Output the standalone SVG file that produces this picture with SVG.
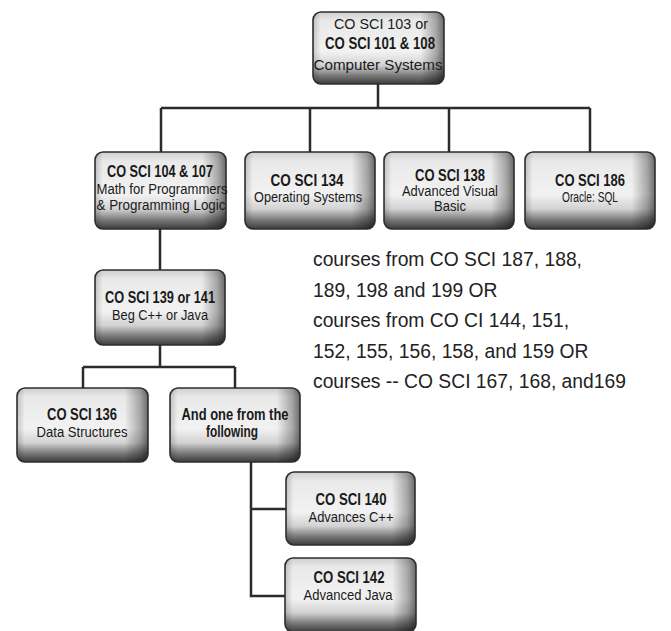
<svg xmlns="http://www.w3.org/2000/svg" width="671" height="631" viewBox="0 0 671 631">
<defs>
<linearGradient id="gv" x1="0" y1="0" x2="0" y2="1">
<stop offset="0" stop-color="#cfcfcf"/>
<stop offset="0.12" stop-color="#e9e9e9"/>
<stop offset="0.55" stop-color="#f2f2f2"/>
<stop offset="0.74" stop-color="#d2d2d2"/>
<stop offset="0.88" stop-color="#7a7a7a"/>
<stop offset="1" stop-color="#3c3c3c"/>
</linearGradient>
<linearGradient id="gh" x1="0" y1="0" x2="1" y2="0">
<stop offset="0" stop-color="#000" stop-opacity="0.18"/>
<stop offset="0.06" stop-color="#000" stop-opacity="0"/>
<stop offset="0.82" stop-color="#000" stop-opacity="0"/>
<stop offset="0.94" stop-color="#000" stop-opacity="0.3"/>
<stop offset="1" stop-color="#000" stop-opacity="0.55"/>
</linearGradient>
</defs>
<style>
.b{fill:url(#gv)}
.s{fill:url(#gh)}
.o{fill:none;stroke:#2e2e2e;stroke-width:1.6}
text{font-family:"Liberation Sans Narrow","Liberation Sans",Arial,sans-serif;fill:#1a1a1a;text-anchor:middle}
.t{font-weight:bold;font-size:16.5px}
.r{font-size:14px}
.n{font-family:"Liberation Sans",Arial,sans-serif;font-size:19.3px;text-anchor:start;fill:#222}
.c{fill:none;stroke:#2b2b2b;stroke-width:2.5}
</style>
<g id="connectors">
<path class="c" d="M378 84V108M161 108H590M161 108V153M310 108V153M449 108V153M590 108V153"/>
<path class="c" d="M160 229V270M160 345V367M83 367H235M83 367V388M235 367V388"/>
<path class="c" d="M251 462V596H285M251 509H286"/>
</g>
<g id="n103">
<rect class="b" x="313" y="12" width="131" height="72" rx="8"/>
<rect class="s" x="313" y="12" width="131" height="72" rx="8"/>
<rect class="o" x="313" y="12" width="131" height="72" rx="8"/>
<text class="r" x="381" y="29" font-size="15.5" textLength="94" lengthAdjust="spacingAndGlyphs">CO SCI 103 or</text>
<text class="t" x="380" y="49" textLength="110" lengthAdjust="spacingAndGlyphs">CO SCI 101 &amp; 108</text>
<text class="r" x="378" y="70" font-size="15.5" textLength="129" lengthAdjust="spacingAndGlyphs">Computer Systems</text>
</g>
<g id="n104">
<rect class="b" x="95" y="152" width="131" height="77" rx="8"/>
<rect class="s" x="95" y="152" width="131" height="77" rx="8"/>
<rect class="o" x="95" y="152" width="131" height="77" rx="8"/>
<text class="t" x="160" y="177" textLength="106" lengthAdjust="spacingAndGlyphs">CO SCI 104 &amp; 107</text>
<text class="r" x="162" y="194" textLength="131" lengthAdjust="spacingAndGlyphs">Math for Programmers</text>
<text class="r" x="161" y="210" textLength="129" lengthAdjust="spacingAndGlyphs">&amp; Programming Logic</text>
</g>
<g id="n134">
<rect class="b" x="245" y="152" width="130" height="77" rx="8"/>
<rect class="s" x="245" y="152" width="130" height="77" rx="8"/>
<rect class="o" x="245" y="152" width="130" height="77" rx="8"/>
<text class="t" x="307" y="186" textLength="73" lengthAdjust="spacingAndGlyphs">CO SCI 134</text>
<text class="r" x="308" y="202" textLength="108" lengthAdjust="spacingAndGlyphs">Operating Systems</text>
</g>
<g id="n138">
<rect class="b" x="384" y="152" width="130" height="77" rx="8"/>
<rect class="s" x="384" y="152" width="130" height="77" rx="8"/>
<rect class="o" x="384" y="152" width="130" height="77" rx="8"/>
<text class="t" x="450" y="181" textLength="70" lengthAdjust="spacingAndGlyphs">CO SCI 138</text>
<text class="r" x="450" y="196" font-size="12.5" textLength="96" lengthAdjust="spacingAndGlyphs">Advanced Visual</text>
<text class="r" x="450" y="211" font-size="12.5" textLength="32" lengthAdjust="spacingAndGlyphs">Basic</text>
</g>
<g id="n186">
<rect class="b" x="525" y="152" width="130" height="77" rx="8"/>
<rect class="s" x="525" y="152" width="130" height="77" rx="8"/>
<rect class="o" x="525" y="152" width="130" height="77" rx="8"/>
<text class="t" x="590" y="186" textLength="70" lengthAdjust="spacingAndGlyphs">CO SCI 186</text>
<text class="r" x="590" y="202" textLength="56" lengthAdjust="spacingAndGlyphs">Oracle: SQL</text>
</g>
<g id="n139">
<rect class="b" x="95" y="270" width="130" height="75" rx="8"/>
<rect class="s" x="95" y="270" width="130" height="75" rx="8"/>
<rect class="o" x="95" y="270" width="130" height="75" rx="8"/>
<text class="t" x="160" y="303" textLength="110" lengthAdjust="spacingAndGlyphs">CO SCI 139 or 141</text>
<text class="r" x="160" y="320" textLength="96" lengthAdjust="spacingAndGlyphs">Beg C++ or Java</text>
</g>
<g id="n136">
<rect class="b" x="17" y="388" width="131" height="74" rx="8"/>
<rect class="s" x="17" y="388" width="131" height="74" rx="8"/>
<rect class="o" x="17" y="388" width="131" height="74" rx="8"/>
<text class="t" x="82" y="420" textLength="70" lengthAdjust="spacingAndGlyphs">CO SCI 136</text>
<text class="r" x="82" y="437" textLength="91" lengthAdjust="spacingAndGlyphs">Data Structures</text>
</g>
<g id="nOne">
<rect class="b" x="170" y="388" width="130" height="74" rx="8"/>
<rect class="s" x="170" y="388" width="130" height="74" rx="8"/>
<rect class="o" x="170" y="388" width="130" height="74" rx="8"/>
<text class="t" x="235" y="420" textLength="107" lengthAdjust="spacingAndGlyphs">And one from the</text>
<text class="t" x="232" y="437" textLength="52" lengthAdjust="spacingAndGlyphs">following</text>
</g>
<g id="n140">
<rect class="b" x="286" y="472" width="129" height="73" rx="8"/>
<rect class="s" x="286" y="472" width="129" height="73" rx="8"/>
<rect class="o" x="286" y="472" width="129" height="73" rx="8"/>
<text class="t" x="351" y="505" textLength="71" lengthAdjust="spacingAndGlyphs">CO SCI 140</text>
<text class="r" x="351" y="522" textLength="85" lengthAdjust="spacingAndGlyphs">Advances C++</text>
</g>
<g id="n142">
<rect class="b" x="285" y="558" width="131" height="74" rx="8"/>
<rect class="s" x="285" y="558" width="131" height="74" rx="8"/>
<rect class="o" x="285" y="558" width="131" height="74" rx="8"/>
<text class="t" x="349" y="583" textLength="71" lengthAdjust="spacingAndGlyphs">CO SCI 142</text>
<text class="r" x="348" y="600" textLength="89" lengthAdjust="spacingAndGlyphs">Advanced Java</text>
</g>
<g id="note">
<text class="n" x="313" y="266">courses from CO SCI 187, 188,</text>
<text class="n" x="313" y="296.5">189,  198 and 199 OR</text>
<text class="n" x="313" y="327">courses from CO CI 144, 151,</text>
<text class="n" x="313" y="357.5">152, 155, 156, 158, and 159 OR</text>
<text class="n" x="313" y="388">courses -- CO SCI 167, 168, and169</text>
</g>
</svg>
